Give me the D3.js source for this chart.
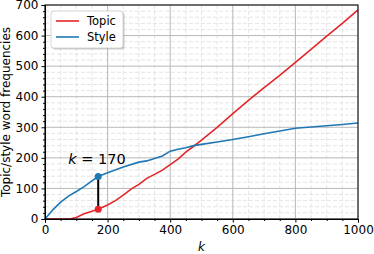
<!DOCTYPE html>
<html>
<head>
<meta charset="utf-8">
<script src="https://cdn.jsdelivr.net/npm/d3@7"></script>
<style>
  body { margin: 0; background: #fff; }
  text { font-family: "DejaVu Sans", sans-serif; }
</style>
</head>
<body>
<div id="chart"></div>
<script>
// data
let topicK   = [0, 50, 80, 100, 125, 150, 170, 200, 225, 250, 275, 300, 325, 350, 375, 400, 425, 450, 475, 500, 550, 600, 650, 700, 750, 800, 850, 900, 950, 1000];
let topicVal = [0, 0, 0, 5, 17, 25, 32, 46, 60, 78, 98, 113, 133, 146, 160, 178, 196, 219, 238, 258, 300, 345, 388, 430, 470, 512, 555, 598, 640, 684];

let styleK   = [0, 25, 50, 75, 100, 125, 150, 170, 200, 250, 300, 325, 350, 375, 400, 425, 450, 475, 500, 550, 600, 650, 700, 750, 800, 850, 900, 950, 1000];
let styleVal = [0, 30, 55, 75, 90, 106, 125, 139, 151, 170, 186, 190, 198, 206, 222, 228, 233, 240, 244, 252, 260, 269, 279, 288, 297, 301, 305, 309, 314];

let xTicks = [0, 200, 400, 600, 800, 1000];
let yTicks = [0, 100, 200, 300, 400, 500, 600, 700];
let markK = 170;

let svgWidth = 374;
let svgHeight = 254;
let margin = { top: 5, right: 16, bottom: 35, left: 45 };
let width = svgWidth - margin.left - margin.right;
let height = svgHeight - margin.top - margin.bottom;

let red = "#e3262a";
let blue = "#1f77b4";

let svg = d3.select("#chart").append("svg")
  .attr("width", svgWidth)
  .attr("height", svgHeight);

let chartGroup = svg.append("g")
  .attr("transform", `translate(${margin.left}, ${margin.top})`);

let x = d3.scaleLinear().domain([0, 1000]).range([0, width]);
let y = d3.scaleLinear().domain([0, 700]).range([height, 0]);

let xMinor = d3.range(50, 1000, 50).filter(d => d % 200 !== 0);
let yMinor = d3.range(20, 700, 20).filter(d => d % 100 !== 0);

// minor grid
chartGroup.append("g")
  .selectAll("line")
  .data(xMinor)
  .enter().append("line")
  .attr("x1", d => x(d)).attr("x2", d => x(d))
  .attr("y1", 0).attr("y2", height)
  .attr("stroke", "#dedede").attr("stroke-dasharray", "4,2").attr("stroke-width", 0.8);

chartGroup.append("g")
  .selectAll("line")
  .data(yMinor)
  .enter().append("line")
  .attr("x1", 0).attr("x2", width)
  .attr("y1", d => y(d)).attr("y2", d => y(d))
  .attr("stroke", "#dedede").attr("stroke-dasharray", "4,2").attr("stroke-width", 0.8);

// major grid
chartGroup.append("g")
  .selectAll("line")
  .data(xTicks)
  .enter().append("line")
  .attr("x1", d => x(d)).attr("x2", d => x(d))
  .attr("y1", 0).attr("y2", height)
  .attr("stroke", "#b8b8b8").attr("stroke-width", 1);

chartGroup.append("g")
  .selectAll("line")
  .data(yTicks)
  .enter().append("line")
  .attr("x1", 0).attr("x2", width)
  .attr("y1", d => y(d)).attr("y2", d => y(d))
  .attr("stroke", "#b8b8b8").attr("stroke-width", 1);

// lines
let topicData = topicK.map((k, i) => [k, topicVal[i]]);
let styleData = styleK.map((k, i) => [k, styleVal[i]]);

let line = d3.line().x(d => x(d[0])).y(d => y(d[1]));

chartGroup.append("path")
  .datum(topicData)
  .attr("d", line)
  .attr("fill", "none")
  .attr("stroke", red)
  .attr("stroke-width", 1.6);

chartGroup.append("path")
  .datum(styleData)
  .attr("d", line)
  .attr("fill", "none")
  .attr("stroke", blue)
  .attr("stroke-width", 1.6);

// k = 170 marker
let topicAt = topicVal[topicK.indexOf(markK)];
let styleAt = styleVal[styleK.indexOf(markK)];

chartGroup.append("line")
  .attr("x1", x(markK)).attr("x2", x(markK))
  .attr("y1", y(styleAt)).attr("y2", y(topicAt))
  .attr("stroke", "#000").attr("stroke-width", 2);

chartGroup.append("circle")
  .attr("cx", x(markK)).attr("cy", y(styleAt)).attr("r", 3.5)
  .attr("fill", blue);

chartGroup.append("circle")
  .attr("cx", x(markK)).attr("cy", y(topicAt)).attr("r", 3.5)
  .attr("fill", red);

let ann = chartGroup.append("text")
  .attr("x", x(markK) - 30)
  .attr("y", y(styleAt) - 13)
  .attr("font-size", 14.5);
ann.append("tspan").attr("font-style", "italic").text("k");
ann.append("tspan").text(" = " + markK);

// axes
let bottomAxis = d3.axisBottom(x).tickValues(xTicks).tickSize(3.5).tickPadding(3).tickFormat(d3.format("d"));
let leftAxis = d3.axisLeft(y).tickValues(yTicks).tickSize(3.5).tickPadding(3).tickFormat(d3.format("d"));

let xAxis = chartGroup.append("g")
  .attr("transform", `translate(0, ${height})`)
  .call(bottomAxis);
let yAxis = chartGroup.append("g").call(leftAxis);

// minor ticks
chartGroup.append("g")
  .attr("transform", `translate(0, ${height})`)
  .call(d3.axisBottom(x).tickValues(xMinor).tickSize(2).tickFormat(""))
  .select(".domain").remove();
chartGroup.append("g")
  .call(d3.axisLeft(y).tickValues(yMinor).tickSize(2).tickFormat(""))
  .select(".domain").remove();

[xAxis, yAxis].forEach(a => {
  a.selectAll("text").attr("font-size", 12).attr("fill", "#000").style("font-family", "DejaVu Sans");
  a.select(".domain").attr("stroke", "#000");
});

// frame top/right
chartGroup.append("rect")
  .attr("width", width).attr("height", height)
  .attr("fill", "none").attr("stroke", "#000").attr("stroke-width", 1);

// axis labels
chartGroup.append("text")
  .attr("x", width / 2)
  .attr("y", height + 32)
  .attr("text-anchor", "middle")
  .attr("font-size", 12)
  .attr("font-style", "italic")
  .text("k");

chartGroup.append("text")
  .attr("transform", "rotate(-90)")
  .attr("x", -height / 2)
  .attr("y", -35)
  .attr("text-anchor", "middle")
  .attr("font-size", 12)
  .text("Topic/style word frequencies");

// legend
let legend = chartGroup.append("g").attr("transform", "translate(6, 6)");
legend.append("rect")
  .attr("x", 1.5).attr("y", 1.5).attr("width", 72).attr("height", 37).attr("rx", 3)
  .attr("fill", "#999").attr("opacity", 0.5);
legend.append("rect")
  .attr("width", 72).attr("height", 37).attr("rx", 3)
  .attr("fill", "#fff").attr("stroke", "#cccccc").attr("stroke-width", 0.8);

let legendItems = [["Topic", red], ["Style", blue]];
legendItems.forEach((item, i) => {
  let g = legend.append("g").attr("transform", `translate(0, ${10 + i * 16})`);
  g.append("line").attr("x1", 5).attr("x2", 28).attr("y1", 0).attr("y2", 0)
    .attr("stroke", item[1]).attr("stroke-width", 1.6);
  g.append("text").attr("x", 36).attr("y", 4).attr("font-size", 11.5).text(item[0]);
});
</script>
</body>
</html>
